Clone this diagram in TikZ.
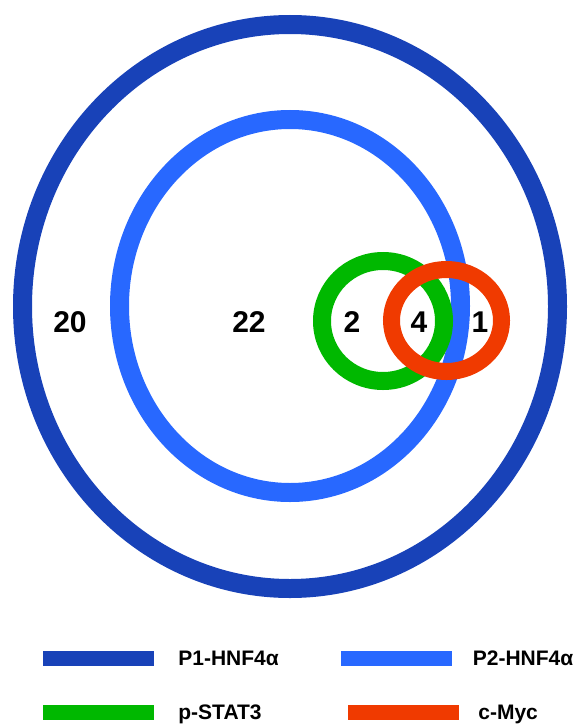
\documentclass[tikz,border=0pt]{standalone}
\usepackage{fontspec}
\setmainfont{Liberation Sans}
\usetikzlibrary{positioning}
\definecolor{pone}{RGB}{24,66,184}
\definecolor{ptwo}{RGB}{40,104,255}
\definecolor{stat}{RGB}{0,184,0}
\definecolor{myc}{RGB}{240,58,0}
\tikzset{
  ring/.style={line width=19pt},
  count/.style={font=\fontsize{30}{30}\selectfont\bfseries, inner sep=0pt},
  legbar/.style={minimum width=111pt, minimum height=15pt, inner sep=0pt},
  legtext/.style={font=\fontsize{21}{21}\selectfont\bfseries, inner sep=0pt, text depth=0pt}
}

\begin{document}
\begin{tikzpicture}[x=1pt,y=-1pt]
  \useasboundingbox (0,0) rectangle (576,725);
  % rings
  \draw[ring, pone] (290,306.5) ellipse [x radius=267.5, y radius=282];
  \draw[ring, ptwo] (290,306) ellipse [x radius=170.5, y radius=186.5];
  \draw[ring, stat, line width=18pt] (383,321) ellipse [x radius=61, y radius=60];
  \draw[ring, myc, line width=17pt] (446.5,320.5) ellipse [x radius=55, y radius=51];
  % counts
  \node[count] (nOuter) at (70,322) {20};
  \node[count] (nInner) at (249,322) {22};
  \node[count] (nStat) at (352,322) {2};
  \node[count] (nBoth) at (419,322) {4};
  \node[count] (nMyc) at (480,322) {1};
  % legend
  \node[legbar, fill=pone] (barP1) at (98.5,658) {};
  \node[legbar, fill=ptwo] (barP2) at (396,658) {};
  \node[legbar, fill=stat] (barStat) at (98.5,712) {};
  \node[legbar, fill=myc] (barMyc) at (403.5,712) {};
  \node[legtext, right=24pt of barP1] (txtP1) {P1-HNF4α};
  \node[legtext, right=21pt of barP2] (txtP2) {P2-HNF4α};
  \node[legtext, right=24pt of barStat] (txtStat) {p-STAT3};
  \node[legtext, right=19pt of barMyc] (txtMyc) {c-Myc};
\end{tikzpicture}
\end{document}
